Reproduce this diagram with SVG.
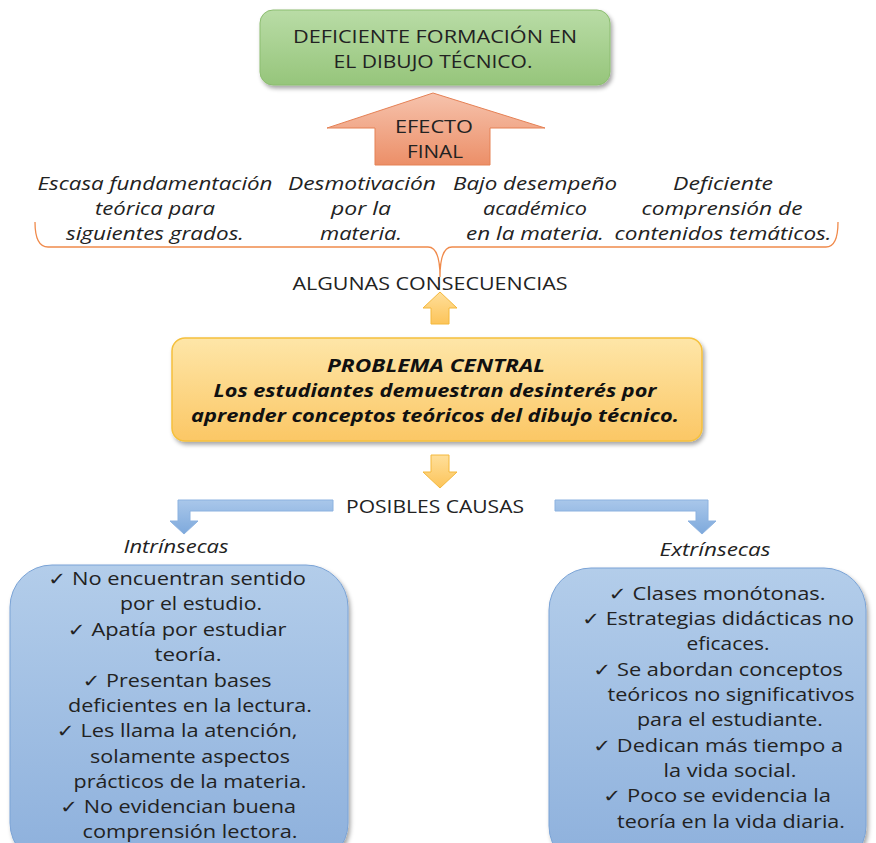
<svg xmlns="http://www.w3.org/2000/svg" width="876" height="843" viewBox="0 0 876 843">
<defs>
<linearGradient id="gGreen" x1="0" y1="0" x2="0" y2="1"><stop offset="0" stop-color="#b9dca6"/><stop offset="1" stop-color="#96c57b"/></linearGradient>
<linearGradient id="gSalmon" x1="0" y1="0" x2="0" y2="1"><stop offset="0" stop-color="#f6c3ad"/><stop offset="1" stop-color="#ec8f68"/></linearGradient>
<linearGradient id="gGold" x1="0" y1="0" x2="0" y2="1"><stop offset="0" stop-color="#fee6a8"/><stop offset="1" stop-color="#fbc765"/></linearGradient>
<linearGradient id="gYArrow" x1="0" y1="0" x2="0" y2="1"><stop offset="0" stop-color="#ffdf9a"/><stop offset="1" stop-color="#fcc45a"/></linearGradient>
<linearGradient id="gBlue" x1="0" y1="0" x2="0" y2="1"><stop offset="0" stop-color="#b3cdea"/><stop offset="1" stop-color="#8db0dc"/></linearGradient>
<linearGradient id="gBArrow" x1="0" y1="0" x2="0" y2="1"><stop offset="0" stop-color="#a9c7ea"/><stop offset="1" stop-color="#7ea9dc"/></linearGradient>
<filter id="sh" x="-10%" y="-10%" width="125%" height="130%"><feDropShadow dx="2" dy="3" stdDeviation="2" flood-color="#000" flood-opacity="0.35"/></filter>
</defs>
<style>
text{font-family:"Open Sans","Liberation Sans","DejaVu Sans",sans-serif;fill:#222;text-anchor:middle;font-size:18px}
.it{font-style:italic}
.bi{font-style:italic;font-weight:bold;fill:#111}
</style>
<rect width="876" height="843" fill="#fff"/>

<g id="efecto-final-box">
<rect x="260" y="10" width="350" height="75" rx="13" fill="url(#gGreen)" stroke="#8cbd70" stroke-width="1" filter="url(#sh)"/>
<text x="435" y="43" textLength="284" lengthAdjust="spacingAndGlyphs">DEFICIENTE FORMACIÓN EN</text>
<text x="433" y="68" textLength="199" lengthAdjust="spacingAndGlyphs">EL DIBUJO TÉCNICO.</text>
</g>

<g id="efecto-final-arrow">
<path d="M433,93 L545,128 L490,128 L490,165 L375,165 L375,128 L327,128 Z" fill="url(#gSalmon)" stroke="#e58155" stroke-width="1"/>
<text x="434" y="133" textLength="78" lengthAdjust="spacingAndGlyphs">EFECTO</text>
<text x="435" y="158" textLength="56" lengthAdjust="spacingAndGlyphs">FINAL</text>
</g>

<g id="consecuencias">
<text class="it" x="155" y="190" textLength="235" lengthAdjust="spacingAndGlyphs">Escasa fundamentación</text>
<text class="it" x="155" y="215" textLength="120" lengthAdjust="spacingAndGlyphs">teórica para</text>
<text class="it" x="155" y="240" textLength="178" lengthAdjust="spacingAndGlyphs">siguientes grados.</text>
<text class="it" x="362" y="190" textLength="148" lengthAdjust="spacingAndGlyphs">Desmotivación</text>
<text class="it" x="361" y="215" textLength="60" lengthAdjust="spacingAndGlyphs">por la</text>
<text class="it" x="361" y="240" textLength="82" lengthAdjust="spacingAndGlyphs">materia.</text>
<text class="it" x="535" y="190" textLength="164" lengthAdjust="spacingAndGlyphs">Bajo desempeño</text>
<text class="it" x="535" y="215" textLength="104" lengthAdjust="spacingAndGlyphs">académico</text>
<text class="it" x="535" y="240" textLength="138" lengthAdjust="spacingAndGlyphs">en la materia.</text>
<text class="it" x="723" y="190" textLength="100" lengthAdjust="spacingAndGlyphs">Deficiente</text>
<text class="it" x="722" y="215" textLength="161" lengthAdjust="spacingAndGlyphs">comprensión de</text>
<text class="it" x="723" y="240" textLength="217" lengthAdjust="spacingAndGlyphs">contenidos temáticos.</text>
</g>

<g id="connectors">
<path d="M35,222 Q35,247 48,247 L428,247 Q440,247 440,277 Q440,247 452,247 L826,247 Q838,247 838,222" fill="none" stroke="#f08a4b" stroke-width="1.3"/>
<path d="M440,292 L457,308 L449,308 L449,324 L431,324 L431,308 L423,308 Z" fill="url(#gYArrow)" stroke="#f4b83c" stroke-width="1"/>
<path d="M431,455 L449,455 L449,472 L457,472 L440,488 L423,472 L431,472 Z" fill="url(#gYArrow)" stroke="#f4b83c" stroke-width="1"/>
<path d="M333,500 L333,511 L190,511 L190,521 L198,521 L184,534 L170,521 L178,521 L178,500 Z" fill="url(#gBArrow)" stroke="#8cb2e0" stroke-width="1"/>
<path d="M555,500 L708,500 L708,521 L716,521 L702,534 L688,521 L696,521 L696,511 L555,511 Z" fill="url(#gBArrow)" stroke="#8cb2e0" stroke-width="1"/>
</g>

<g id="algunas-consecuencias">
<text x="430" y="290" textLength="275" lengthAdjust="spacingAndGlyphs">ALGUNAS CONSECUENCIAS</text>
</g>

<g id="problema-central">
<rect x="172" y="338" width="530" height="103" rx="13" fill="url(#gGold)" stroke="#f5c03c" stroke-width="1.5" filter="url(#sh)"/>
<text class="bi" x="436" y="372" textLength="218" lengthAdjust="spacingAndGlyphs">PROBLEMA CENTRAL</text>
<text class="bi" x="435" y="397" textLength="443" lengthAdjust="spacingAndGlyphs">Los estudiantes demuestran desinterés por</text>
<text class="bi" x="435" y="422" textLength="488" lengthAdjust="spacingAndGlyphs">aprender conceptos teóricos del dibujo técnico.</text>
</g>

<g id="posibles-causas">
<text x="435" y="513" textLength="178" lengthAdjust="spacingAndGlyphs">POSIBLES CAUSAS</text>
</g>

<g id="intrinsecas-label"><text class="it" x="176" y="553" textLength="105" lengthAdjust="spacingAndGlyphs">Intrínsecas</text></g>
<g id="extrinsecas-label"><text class="it" x="715" y="556" textLength="111" lengthAdjust="spacingAndGlyphs">Extrínsecas</text></g>

<g id="intrinsecas">
<rect x="10" y="565" width="338" height="300" rx="42" fill="url(#gBlue)" stroke="#7aa3d6" stroke-width="1" filter="url(#sh)"/>
<text x="177" y="585" textLength="258" lengthAdjust="spacingAndGlyphs">✓ No encuentran sentido</text>
<text x="191" y="610" textLength="142" lengthAdjust="spacingAndGlyphs">por el estudio.</text>
<text x="177" y="636" textLength="219" lengthAdjust="spacingAndGlyphs">✓ Apatía por estudiar</text>
<text x="188" y="661" textLength="67" lengthAdjust="spacingAndGlyphs">teoría.</text>
<text x="177" y="687" textLength="189" lengthAdjust="spacingAndGlyphs">✓ Presentan bases</text>
<text x="190" y="712" textLength="244" lengthAdjust="spacingAndGlyphs">deficientes en la lectura.</text>
<text x="177" y="737" textLength="241" lengthAdjust="spacingAndGlyphs">✓ Les llama la atención,</text>
<text x="190" y="763" textLength="200" lengthAdjust="spacingAndGlyphs">solamente aspectos</text>
<text x="190" y="788" textLength="233" lengthAdjust="spacingAndGlyphs">prácticos de la materia.</text>
<text x="178" y="813" textLength="236" lengthAdjust="spacingAndGlyphs">✓ No evidencian buena</text>
<text x="190" y="838" textLength="215" lengthAdjust="spacingAndGlyphs">comprensión lectora.</text>
</g>

<g id="extrinsecas">
<rect x="549" y="568" width="317" height="300" rx="42" fill="url(#gBlue)" stroke="#7aa3d6" stroke-width="1" filter="url(#sh)"/>
<text x="717" y="600" textLength="217" lengthAdjust="spacingAndGlyphs">✓ Clases monótonas.</text>
<text x="718" y="625" textLength="272" lengthAdjust="spacingAndGlyphs">✓ Estrategias didácticas no</text>
<text x="728" y="650" textLength="83" lengthAdjust="spacingAndGlyphs">eficaces.</text>
<text x="718" y="676" textLength="250" lengthAdjust="spacingAndGlyphs">✓ Se abordan conceptos</text>
<text x="731" y="701" textLength="247" lengthAdjust="spacingAndGlyphs">teóricos no significativos</text>
<text x="730" y="726" textLength="186" lengthAdjust="spacingAndGlyphs">para el estudiante.</text>
<text x="718" y="752" textLength="250" lengthAdjust="spacingAndGlyphs">✓ Dedican más tiempo a</text>
<text x="730" y="777" textLength="133" lengthAdjust="spacingAndGlyphs">la vida social.</text>
<text x="717" y="802" textLength="228" lengthAdjust="spacingAndGlyphs">✓ Poco se evidencia la</text>
<text x="731" y="828" textLength="228" lengthAdjust="spacingAndGlyphs">teoría en la vida diaria.</text>
</g>
</svg>
